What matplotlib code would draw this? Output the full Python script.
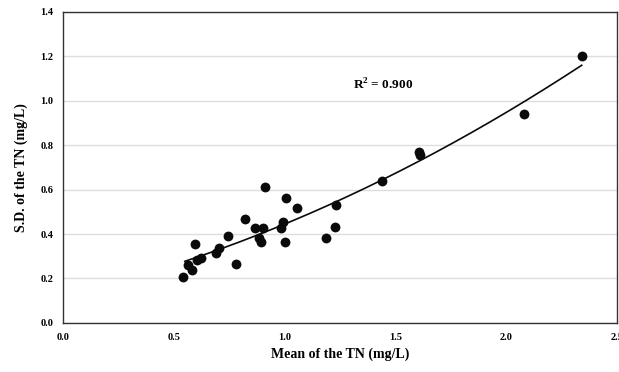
import numpy as np
import matplotlib
matplotlib.use("Agg")
import matplotlib.pyplot as plt

mean_tn = [0.539, 0.562, 0.580, 0.597, 0.606, 0.624, 0.692, 0.704, 0.744, 0.781,
           0.820, 0.868, 0.883, 0.895, 0.900, 0.909, 0.981, 0.993, 0.999, 1.007,
           1.056, 1.188, 1.227, 1.230, 1.437, 1.605, 1.610, 2.081, 2.340]
sd_tn = [0.207, 0.260, 0.237, 0.355, 0.283, 0.293, 0.313, 0.336, 0.389, 0.266,
         0.467, 0.429, 0.381, 0.366, 0.426, 0.611, 0.426, 0.452, 0.363, 0.562,
         0.517, 0.384, 0.431, 0.529, 0.637, 0.771, 0.756, 0.939, 1.200]
r2_text = "R$^2$ = 0.900"
x_ticks = [0.0, 0.5, 1.0, 1.5, 2.0, 2.5]
y_ticks = [0.0, 0.2, 0.4, 0.6, 0.8, 1.0, 1.2, 1.4]

plt.rcParams['font.family'] = ['Liberation Serif', 'DejaVu Serif']
plt.rcParams['font.weight'] = 'bold'
plt.rcParams['mathtext.fontset'] = 'custom'
plt.rcParams['mathtext.rm'] = 'Liberation Serif:bold'

fig = plt.figure(figsize=(6.19, 3.72), dpi=100)
ax = fig.add_axes([0.102, 0.132, 0.895, 0.836])

x = np.array(mean_tn)
y = np.array(sd_tn)
coef = np.polyfit(x, y, 2)
xf = np.linspace(x.min() + 0.01, x.max(), 200)
ax.plot(xf, np.polyval(coef, xf), color='#0a0a0a', lw=1.2, zorder=3)
ax.scatter(x, y, s=50, color='#0a0a0a', zorder=4, linewidths=0)

ax.set_xlim(0, 2.5)
ax.set_ylim(0, 1.4)
ax.set_xticks(x_ticks)
ax.set_yticks(y_ticks)
ax.set_xticklabels([f"{v:.1f}" for v in x_ticks], fontsize=7.5, fontweight='bold')
ax.set_yticklabels([f"{v:.1f}" for v in y_ticks], fontsize=7.5, fontweight='bold')
ax.tick_params(length=0, pad=7)
ax.yaxis.grid(True, color='#dddddd', lw=1)
ax.set_axisbelow(True)
for s in ax.spines.values():
    s.set_color('#333333')
    s.set_linewidth(1)

ax.set_xlabel("Mean of the TN (mg/L)", fontsize=10, fontweight='bold', labelpad=4)
ax.set_ylabel("S.D. of the TN (mg/L)", fontsize=10, fontweight='bold', labelpad=9)
ax.text(1.445, 1.07, r2_text, fontsize=9.5, fontweight='bold', ha='center', va='center')

fig.savefig("out.png", dpi=100)
